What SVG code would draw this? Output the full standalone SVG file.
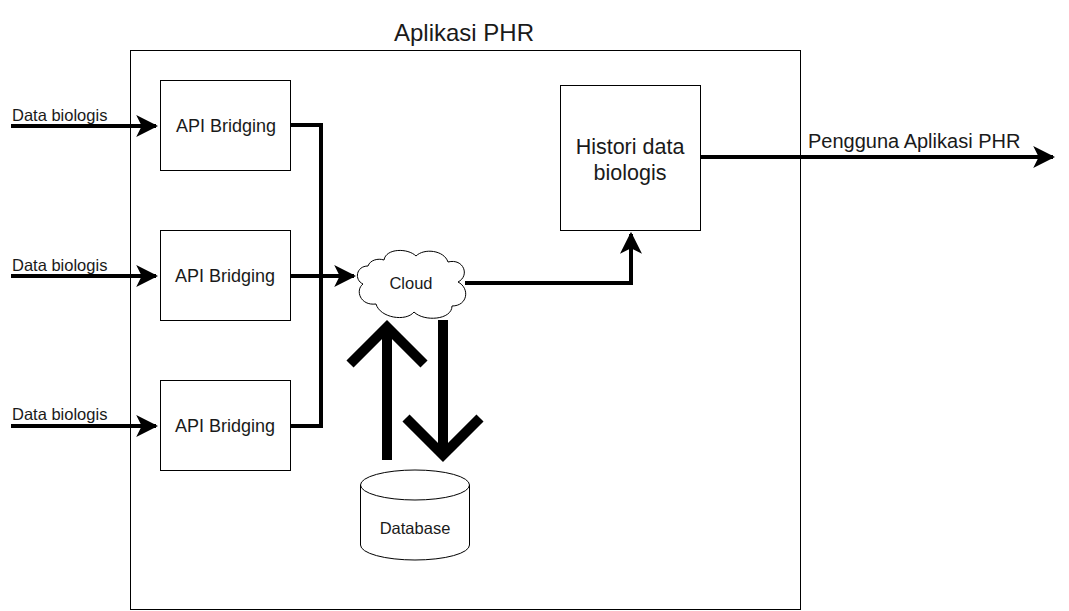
<svg xmlns="http://www.w3.org/2000/svg" width="1069" height="611" viewBox="0 0 1069 611">
<style>
.box{fill:#fff;stroke:#000;stroke-width:1}
.t{font-family:"Liberation Sans",Arial,sans-serif;fill:#1a1a1a}
.c{fill:none;stroke:#000;stroke-width:4}
.big{fill:none;stroke:#000;stroke-width:10}
</style>
<defs>
<marker id="ah" viewBox="0 0 10 10" refX="9" refY="5" markerWidth="5.5" markerHeight="5.5" markerUnits="strokeWidth" orient="auto">
<path d="M0,0 L10,5 L0,10 L2.5,5 Z" fill="#000"/>
</marker>
</defs>
<rect width="1069" height="611" fill="#fff"/>
<g id="container">
<rect class="box" x="130.5" y="50.5" width="670" height="559"/>
<text class="t" x="464" y="41" font-size="24" text-anchor="middle">Aplikasi PHR</text>
</g>
<g id="connectors">
<path class="c" d="M11,126 H156" marker-end="url(#ah)"/>
<path class="c" d="M11,276 H156" marker-end="url(#ah)"/>
<path class="c" d="M11,426 H156" marker-end="url(#ah)"/>
<path class="c" d="M290,125 H321 V426 H290"/>
<path class="c" d="M290,276 H354" marker-end="url(#ah)"/>
<path class="c" d="M465,283 H631 V234" marker-end="url(#ah)"/>
<path class="c" d="M700,157 H1053" marker-end="url(#ah)"/>
<path class="big" d="M387,460 V326 M350,364 L387,327 L424,364"/>
<path class="big" d="M443,320 V454 M406,418 L443,455 L480,418"/>
</g>
<g class="t" font-size="16.5">
<text x="12" y="121">Data biologis</text>
<text x="12" y="271">Data biologis</text>
<text x="12" y="420">Data biologis</text>
</g>
<g id="api1">
<rect class="box" x="160.5" y="80.5" width="130" height="90"/>
<text class="t" x="226" y="132" font-size="18" text-anchor="middle">API Bridging</text>
</g>
<g id="api2">
<rect class="box" x="160.5" y="230.5" width="130" height="90"/>
<text class="t" x="225" y="282" font-size="18" text-anchor="middle">API Bridging</text>
</g>
<g id="api3">
<rect class="box" x="160.5" y="380.5" width="130" height="90"/>
<text class="t" x="225" y="432" font-size="18" text-anchor="middle">API Bridging</text>
</g>
<g id="cloud">
<path class="box" d="M368,266 C356,266 354,280 363,284 C355,290 360,306 376,304 C380,318 406,322 414,312 C424,322 452,320 452,306 C468,306 470,288 458,282 C470,276 464,258 448,262 C444,250 424,248 416,256 C408,248 386,248 384,260 C378,258 370,260 368,266 Z"/>
<text class="t" x="411" y="289" font-size="16.5" text-anchor="middle">Cloud</text>
</g>
<g id="histori">
<rect class="box" x="560.5" y="85.5" width="140" height="145"/>
<text class="t" x="630" y="154" font-size="21.5" text-anchor="middle">Histori data</text>
<text class="t" x="630" y="180" font-size="21.5" text-anchor="middle">biologis</text>
</g>
<g id="database">
<path class="box" d="M360.5,485 A54.5,15 0 0 1 469.5,485 V545 A54.5,15 0 0 1 360.5,545 Z"/>
<path fill="none" stroke="#000" d="M360.5,485 A54.5,15 0 0 0 469.5,485"/>
<text class="t" x="415" y="534" font-size="16.5" text-anchor="middle">Database</text>
</g>
<text class="t" x="808" y="148" font-size="20">Pengguna Aplikasi PHR</text>
</svg>
